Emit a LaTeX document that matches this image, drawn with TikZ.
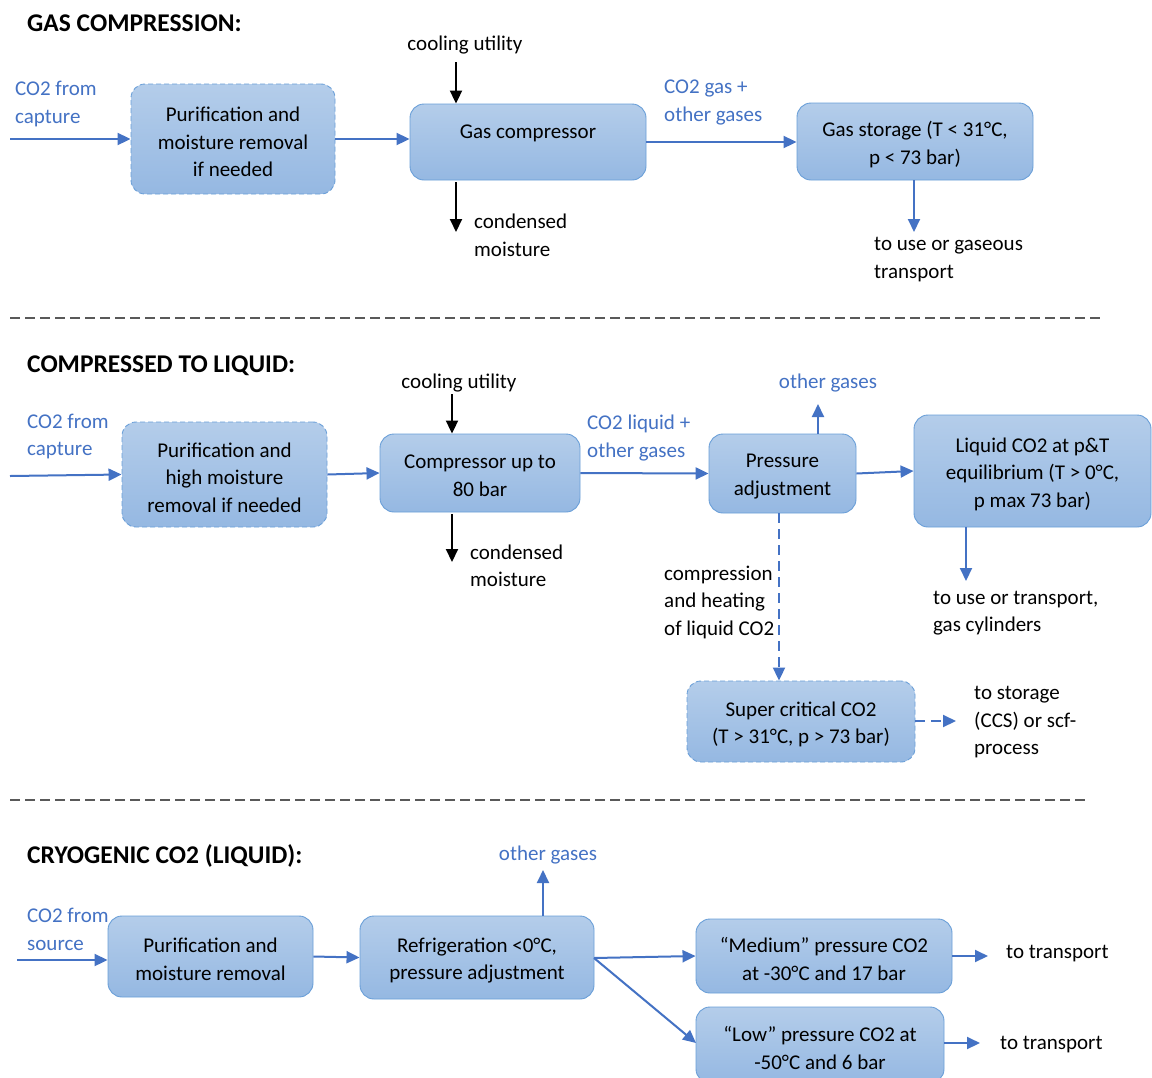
\documentclass[tikz,border=0pt]{standalone}
\usepackage{fontspec}
\setmainfont{Carlito}
\usetikzlibrary{arrows.meta}
\definecolor{boxtop}{HTML}{B4CDEA}
\definecolor{boxbot}{HTML}{95B8E2}
\definecolor{bordc}{HTML}{6A9FD8}
\definecolor{arrb}{HTML}{4472C4}
\definecolor{sepc}{HTML}{595959}
\newcommand{\fs}{\fontsize{21}{27.5}\selectfont}
\tikzset{
  box/.style={rounded corners=14pt, draw=bordc, line width=0.9pt, top color=boxtop, bottom color=boxbot, inner sep=0pt},
  dbox/.style={box, dashed, dash pattern=on 5pt off 3pt},
  boxtext/.style={align=center, inner sep=0pt, font=\fs, text=black},
  barrow/.style={draw=arrb, line width=2pt, -{Triangle[length=13pt,width=12pt]}},
  karrow/.style={draw=black, line width=2pt, -{Triangle[length=13pt,width=12pt]}},
  dbarrow/.style={barrow, dash pattern=on 10pt off 6pt},
  btxt/.style={font=\fs, text=arrb, align=left, anchor=west, inner sep=0pt, yshift=-2pt},
  ktxt/.style={font=\fs, text=black, align=left, anchor=west, inner sep=0pt, yshift=-2pt},
  head/.style={font=\fontsize{25.5}{30}\selectfont\bfseries, anchor=west, inner sep=0pt},
  sep/.style={draw=sepc, line width=1.3pt, dash pattern=on 10pt off 5pt},
}
% #1 style, #2 name, #3 centre, #4 width, #5 height, #6 text
\newcommand{\bx}[6]{%
  \node[#1, minimum width=#4pt, minimum height=#5pt] (#2) at (#3) {};
  \node[boxtext] (#2-t) at ([yshift=-3pt]#2.center) {#6};}
\begin{document}
\begin{tikzpicture}[x=1pt,y=-1pt]
\useasboundingbox (0,0) rectangle (1152,1077);
\fill[white] (0,0) rectangle (1152,1077);

% ---------- Section 1 ----------
\node[head] (h1) at (27,23) {GAS COMPRESSION:};
\node[btxt] (t1) at (15,102) {CO2 from\\capture};
\bx{dbox}{b1}{233,139}{204}{110}{Purification and\\moisture removal\\if needed}
\bx{box}{b2}{528,142}{236}{76}{Gas compressor\\\mbox{}}
\bx{box}{b3}{915,141.5}{236}{77}{Gas storage (T < 31°C,\\p < 73 bar)}
\coordinate (s1) at (10,139);
\draw[barrow] (s1) -- (b1.west);
\draw[barrow] (b1.east) -- (b2.west |- b1.east);
\node[ktxt, anchor=center] (cu1) at (465,43) {cooling utility};
\coordinate (cu1a) at (456,62);
\draw[karrow] (cu1a) -- (cu1a |- b2.north);
\coordinate (cm1a) at (456,182);
\coordinate (cm1b) at (456,232);
\draw[karrow] (cm1a) -- (cm1b);
\node[ktxt] (cm1) at (474,233.5) {condensed\\moisture};
\draw[barrow] (b2.east) -- (b3.west |- b2.east);
\node[btxt] (g1) at (664,100.5) {CO2 gas +\\other gases};
\coordinate (u1) at (914,232);
\draw[barrow] (u1 |- b3.south) -- (u1);
\node[ktxt] (u1t) at (874,257.5) {to use or gaseous\\transport};

\coordinate (sepa) at (10,318);
\coordinate (sepb) at (1100,318);
\draw[sep] (sepa) -- (sepb);

% ---------- Section 2 ----------
\node[head] (h2) at (27,366) {COMPRESSED TO LIQUID:};
\node[btxt] (t2) at (27,434.5) {CO2 from\\capture};
\bx{dbox}{b4}{224.5,474.5}{205}{105}{Purification and\\high moisture\\removal if needed}
\bx{box}{b5}{480,473}{200}{78}{Compressor up to\\80 bar}
\bx{box}{b6}{782.5,473.5}{147}{79}{Pressure\\adjustment}
\bx{box}{b7}{1032.5,471}{237}{112}{Liquid CO2 at p\&T\\equilibrium (T > 0°C,\\p max 73 bar)}
\bx{dbox}{b8}{801,721.5}{228}{81}{Super critical CO2\\(T > 31°C, p > 73 bar)}
\coordinate (s2) at (10,476);
\draw[barrow] (s2) -- (b4.west);
\draw[barrow] (b4.east) -- (b5.west);
\node[ktxt, anchor=center] (cu2) at (459,381) {cooling utility};
\coordinate (cu2a) at (452,394);
\draw[karrow] (cu2a) -- (cu2a |- b5.north);
\coordinate (cm2a) at (452,514);
\coordinate (cm2b) at (452,562);
\draw[karrow] (cm2a) -- (cm2b);
\node[ktxt] (cm2) at (470,564) {condensed\\moisture};
\draw[barrow] (b5.east) -- (b6.west);
\node[btxt] (g2) at (587,436) {CO2 liquid +\\other gases};
\coordinate (og2) at (818,404);
\draw[barrow] (og2 |- b6.north) -- (og2);
\node[btxt, anchor=center] (og2t) at (828,381) {other gases};
\draw[barrow] (b6.east) -- (b7.west);
\coordinate (u2) at (966,581);
\draw[barrow] (u2 |- b7.south) -- (u2);
\node[ktxt] (u2t) at (933,611) {to use or transport,\\gas cylinders};
\coordinate (d2) at (779,513);
\draw[dbarrow] (d2) -- (d2 |- b8.north);
\node[ktxt] (d2t) at (664,600) {compression\\and heating\\of liquid CO2};
\coordinate (sc) at (956,721);
\draw[dbarrow] (b8.east |- sc) -- (sc);
\node[ktxt] (sct) at (974,720.5) {to storage\\(CCS) or scf-\\process};

\coordinate (sepc) at (10,800);
\coordinate (sepd) at (1088,800);
\draw[sep] (sepc) -- (sepd);

% ---------- Section 3 ----------
\node[head] (h3) at (27,856) {CRYOGENIC CO2 (LIQUID):};
\node[btxt] (t3) at (27,927.5) {CO2 from\\source};
\bx{box}{b9}{210.5,956.5}{205}{81}{Purification and\\moisture removal}
\bx{box}{b10}{477,957.5}{234}{83}{Refrigeration <0°C,\\pressure adjustment}
\bx{box}{b11}{824,956}{256}{74}{“Medium” pressure CO2\\at -30°C and 17 bar}
\bx{box}{b12}{820,1045}{248}{76}{“Low” pressure CO2 at\\-50°C and 6 bar}
\coordinate (s3) at (17,960);
\draw[barrow] (s3) -- (b9.west |- s3);
\draw[barrow] (b9.east) -- (b10.west);
\coordinate (og3) at (543,870);
\draw[barrow] (og3 |- b10.north) -- (og3);
\node[btxt, anchor=center] (og3t) at (548,853) {other gases};
\coordinate (sp) at (594,958);
\draw[barrow] (sp) -- (b11.west);
\coordinate (lw) at (696,1043);
\draw[barrow] (sp) -- (lw);
\coordinate (tr1) at (988,956);
\draw[barrow] (b11.east) -- (tr1);
\node[ktxt] (tr1t) at (1006,952) {to transport};
\coordinate (tr2) at (980,1043);
\draw[barrow] (b12.east |- tr2) -- (tr2);
\node[ktxt] (tr2t) at (1000,1043) {to transport};
\end{tikzpicture}
\end{document}
